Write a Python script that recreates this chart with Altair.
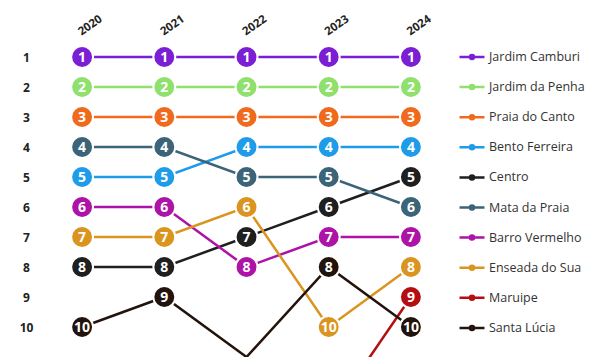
import altair as alt
import pandas as pd

years = [2020, 2021, 2022, 2023, 2024]
names = ["Jardim Camburi", "Jardim da Penha", "Praia do Canto", "Bento Ferreira",
         "Centro", "Mata da Praia", "Barro Vermelho", "Enseada do Sua",
         "Maruipe", "Santa Lúcia"]
colors = ["#7a1fd4", "#8fe06c", "#ef6a1c", "#1e9be9", "#1f1f1f",
          "#3c6478", "#ad13a6", "#d9951f", "#b50e12", "#22140c"]
ranks = {
    "Jardim Camburi": [1, 1, 1, 1, 1],
    "Jardim da Penha": [2, 2, 2, 2, 2],
    "Praia do Canto": [3, 3, 3, 3, 3],
    "Bento Ferreira": [5, 5, 4, 4, 4],
    "Centro": [8, 8, 7, 6, 5],
    "Mata da Praia": [4, 4, 5, 5, 6],
    "Barro Vermelho": [6, 6, 8, 7, 7],
    "Enseada do Sua": [7, 7, 6, 10, 8],
    "Maruipe": [None, None, None, 13, 9],
    "Santa Lúcia": [10, 9, 11, 8, 10],
}

rows = []
for n in names:
    for y, r in zip(years, ranks[n]):
        if r is not None:
            rows.append({"name": n, "year": y, "rank": r})
df = pd.DataFrame(rows)

font = "Open Sans"
xenc = alt.X("year:Q", scale=alt.Scale(domain=[2019.5, 2024.5], nice=False, zero=False),
             axis=alt.Axis(orient="top", values=years, format="d", title=None,
                           domain=False, ticks=False, grid=False, labelAngle=-35,
                           labelAlign="left", labelBaseline="bottom", labelPadding=5,
                           labelFontSize=11.5, labelFontWeight="bold", labelColor="#222",
                           labelFont=font))
yenc = alt.Y("rank:Q", scale=alt.Scale(domain=[0.5, 11], reverse=True, nice=False, zero=False),
             axis=alt.Axis(values=list(range(1, 11)), title=None, domain=False, ticks=False,
                           grid=False, labelAlign="center", labelPadding=15,
                           labelFontSize=12, labelFontWeight="bold", labelColor="#222",
                           labelFont=font))

sym = "M-1,0H1M-0.16,0A0.16,0.16,0,1,0,0.16,0A0.16,0.16,0,1,0,-0.16,0"

base = alt.Chart(df)
lines = base.mark_line(strokeWidth=2.5, clip=True).encode(
    x=xenc, y=yenc,
    color=alt.Color("name:N", scale=alt.Scale(domain=names, range=colors),
                    legend=alt.Legend(title=None, orient="none", legendX=417, legendY=1,
                                      symbolType=sym, symbolSize=625, symbolStrokeWidth=2.5,
                                      rowPadding=9.1, labelOffset=3, labelFontSize=12.5,
                                      labelColor="#333", labelFont=font, padding=0,
                                      labelLimit=200)),
    detail="name:N",
    order="year:Q",
)
pts = base.transform_filter(alt.datum.rank <= 10)
circles = pts.mark_circle(size=480, opacity=1, stroke="white", strokeWidth=2).encode(
    x=xenc, y=yenc,
    fill=alt.Fill("name:N", scale=alt.Scale(domain=names, range=colors), legend=None),
)
labels = pts.mark_text(color="white", fontSize=14, fontWeight="bold", font=font,
                       baseline="middle", dy=0.5).encode(
    x=xenc, y=yenc, text="rank:Q",
)

chart = alt.layer(lines, circles, labels).properties(
    width=411, height=315,
    autosize=alt.AutoSizeParams(type="none"),
    padding={"top": 34, "left": 33, "right": 140, "bottom": 0},
).configure_view(stroke=None)

chart.save("out.html", embed_options={"renderer": "svg", "actions": False})
